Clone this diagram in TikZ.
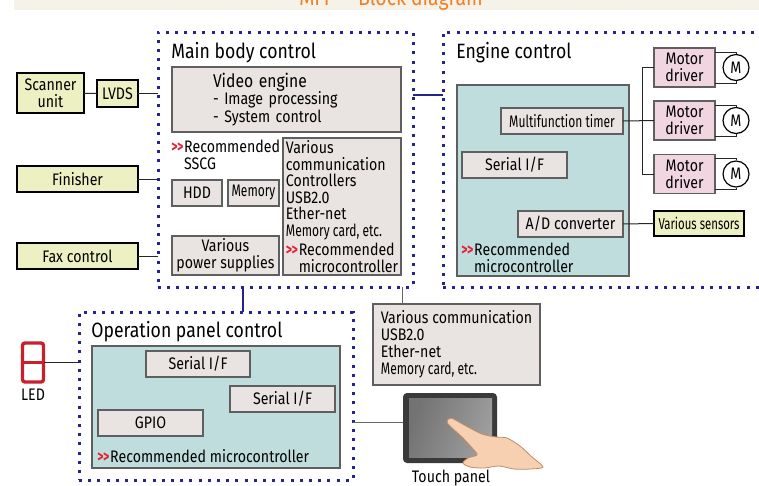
\documentclass[tikz,border=0pt]{standalone}
\usepackage{fontspec}
\setmainfont{Fira Sans}[FakeStretch=0.85]
\newfontfamily\narrowfont{Fira Sans}[FakeStretch=0.72]
\newfontfamily\cjkfont{Noto Sans CJK JP}
\usetikzlibrary{positioning, calc, arrows.meta}
\definecolor{BoxGray}{RGB}{233,228,226}
\definecolor{BoxLine}{RGB}{95,95,95}
\definecolor{ExtYellow}{RGB}{237,240,195}
\definecolor{McuTeal}{RGB}{191,221,220}
\definecolor{DrvPink}{RGB}{241,214,225}
\definecolor{DotBlue}{RGB}{36,36,140}
\definecolor{LedRed}{RGB}{200,32,45}
\definecolor{RecRed}{RGB}{232,30,50}
\definecolor{Band}{RGB}{247,242,232}
\definecolor{TitleOrange}{RGB}{240,128,40}
\definecolor{PanelDark}{RGB}{58,58,58}
\definecolor{Skin}{RGB}{246,208,176}
\definecolor{SkinLine}{RGB}{190,140,105}
\newlength\pxu
\setlength\pxu{0.02cm}
\newcommand\boxfont{\fontsize{9.5}{9.7}\selectfont}
\newcommand\recmark{{\narrowfont\bfseries\color{RecRed}>\kern-0.3pt>\kern0.5pt}}
\tikzset{wh/.style 2 args={minimum width=#1\pxu, minimum height=#2\pxu}}
\tikzstyle{group} = [draw=DotBlue, line width=3\pxu, dash pattern=on 3\pxu off 6.2\pxu, inner sep=0, outer sep=0]
\tikzstyle{grouptitle} = [anchor=base west, inner sep=0, font=\fontsize{11.8}{13}\selectfont]
\tikzstyle{block} = [draw=BoxLine, fill=BoxGray, line width=1.3\pxu, inner sep=0, outer sep=0, align=center, font=\boxfont]
\tikzstyle{ext} = [block, draw=black, fill=ExtYellow]
\tikzstyle{mcu} = [block, fill=McuTeal]
\tikzstyle{driver} = [block, fill=DrvPink]
\tikzstyle{motor} = [circle, draw=black, fill=white, line width=1.2\pxu, minimum size=26\pxu, inner sep=0, font=\boxfont]
\tikzstyle{note} = [anchor=north west, inner sep=0, align=left, font=\boxfont]
\tikzstyle{wire} = [draw=black!85, line width=1\pxu]
\tikzstyle{bus} = [draw=DotBlue, line width=2.6\pxu]
\tikzstyle{ledseg} = [draw=LedRed, line width=3.4\pxu, rounded corners=2.5\pxu, inner sep=0, outer sep=0,
  path picture={\draw[LedRed, line width=3.4\pxu] (path picture bounding box.west) -- (path picture bounding box.east);}]

\begin{document}
\begin{tikzpicture}[x=\pxu, y=-\pxu]
\useasboundingbox (0,0) rectangle (759,485);

% heading strip
\fill[Band] (14,0) rectangle (759,10);
\begin{scope}
  \clip (14,0) rectangle (759,10);
  \node[anchor=base, inner sep=0, text=TitleOrange, font=\fontsize{13}{13}\selectfont] (title) at (391,5) {MFP{\cjkfont ・}Block diagram};
\end{scope}

% dotted control groups
\node[group, wh={255}{255}] (mainbody) at (285.5,159.5) {};
\node[group, wh={327}{255}] (engine) at (606.5,159.5) {};
\node[group, wh={274}{168}] (opanel) at (216,396) {};
\node[grouptitle] (maintitle) at (171,58) {Main body control};
\node[grouptitle] (enginetitle) at (456,58) {Engine control};
\node[grouptitle] (optitle) at (91,337) {Operation panel control};

\coordinate (busy) at (0,95);
\coordinate (busx) at (243,0);
\draw[bus] (mainbody.east |- busy) -- (engine.west |- busy);
\draw[bus] (mainbody.south -| busx) -- (opanel.north -| busx);

% outside units
\node[ext, wh={67}{40}] (scanner) at (50.5,93) {Scanner\\unit};
\node[ext, wh={41}{27}] (lvds) at (117.5,93.5) {LVDS};
\node[ext, wh={121}{26}] (finisher) at (77.5,179) {Finisher};
\node[ext, wh={121}{26}] (fax) at (77.5,256) {Fax control};
\draw[wire] (scanner) -- (lvds);
\draw[wire] (lvds) -- (lvds -| mainbody.west);
\draw[wire] (finisher) -- (finisher -| mainbody.west);
\draw[wire] (fax) -- (fax -| mainbody.west);

% main body
\node[block, wh={229}{65}, text width=147\pxu, align=left, font=\fontsize{9.5}{9.8}\selectfont] (video) at (286.5,99.5)
  {{\fontsize{10.5}{9.8}\selectfont Video engine}\\- Image processing\\- System control};
\node[note] (sscg) at (171,140) {\recmark Recommended\\\phantom{\recmark}SSCG};
\node[block, wh={50}{26}] (hdd) at (197,193) {HDD};
\node[block, wh={51}{26}, font=\narrowfont\boxfont] (memory) at (253.5,193) {Memory};
\node[block, wh={107}{39}] (power) at (225.5,255.5) {Various\\power supplies};
\node[block, wh={118}{137}, align=left, font=\fontsize{9.5}{9.4}\selectfont] (comm) at (342,206.5)
  {Various\\communication\\Controllers\\USB2.0\\Ether-net\\{\narrowfont Memory card, etc.}\\[1.5pt]\recmark Recommended\\\phantom{\recmark}microcontroller};

% engine
\node[mcu, wh={172}{191}] (engmcu) at (543,180.5) {};
\node[block, wh={122}{26}, font=\narrowfont\boxfont] (timer) at (562,121) {Multifunction timer};
\node[block, wh={105}{26}] (engserial) at (514.5,165) {Serial I/F};
\node[block, wh={105}{26}] (adc) at (570.5,224) {A/D converter};
\node[note] (engrec) at (461,243) {\recmark Recommended\\\phantom{\recmark}microcontroller};

\foreach \i/\y in {1/67.5, 2/120.5, 3/174} {
  \node[driver, wh={61}{39}] (drv\i) at (684.5,\y) {Motor\\driver};
  \node[motor] (mot\i) at (736,\y) {M};
  \draw[wire] ([yshift=-4\pxu]drv\i.north east) -| (mot\i.north);
  \draw[wire] ([yshift=4\pxu]drv\i.south east) -| (mot\i.south);
}
\draw[wire] (timer.east) -- (drv2.west);
\draw[wire] (drv1.west) -- ++(-12,0) |- (drv3.west);

\node[ext, wh={90}{25}, font=\narrowfont\fontsize{9}{9}\selectfont] (sensors) at (699,223.5) {Various sensors};
\draw[wire] (adc) -- (sensors);

% operation panel
\node[mcu, wh={248}{122}] (opmcu) at (216,407) {};
\node[block, wh={104}{26}] (opserial1) at (198,364) {Serial I/F};
\node[block, wh={105}{26}] (opserial2) at (282.5,399) {Serial I/F};
\node[block, wh={105}{26}] (gpio) at (150.5,423) {GPIO};
\node[anchor=base west, inner sep=0, font=\boxfont] (oprec) at (97,462) {\recmark Recommended microcontroller};

\node[ledseg, wh={21}{39}] (led) at (33,362.5) {};
\node[anchor=base, inner sep=0, font=\boxfont] (ledlabel) at (33,400) {LED};
\draw[wire] (led) -- (led -| opanel.west);

% interfaces below the main body
\coordinate (commx) at (402,0);
\node[block, wh={167}{81}, align=left, font=\fontsize{9.5}{9.7}\selectfont] (lowcomm) at (456.5,344.5)
  {Various communication\\USB2.0\\Ether-net\\{\narrowfont Memory card, etc.}};
\draw[wire, draw=black!60] (mainbody.south -| commx) -- (lowcomm.north -| commx);

% touch panel with hand
\node[fill=PanelDark, rounded corners=4\pxu, inner sep=0, outer sep=0, wh={94}{70}] (touch) at (450,428) {};
\shade[left color=black!55, middle color=black!5, right color=black!38, shading angle=70]
  ([shift={(6,5)}]touch.north west) rectangle ([shift={(-5,-6)}]touch.south east);
\filldraw[fill=Skin, draw=SkinLine, line width=0.8\pxu] plot[smooth cycle, tension=0.5] coordinates
  {(447,422) (451,418) (466,426) (482,434) (496,437) (507,438) (520,446) (532,457) (543,467) (530,469)
   (514,469) (499,466) (484,468) (470,467) (463,463) (468,458) (477,455) (474,450) (462,437) (451,427)};
\coordinate (tpy) at (0,422);
\draw[wire, draw=black!60] (opanel.east |- tpy) -- (touch.west |- tpy);
\node[anchor=base, inner sep=0, font=\boxfont] (touchlabel) at (451,482) {Touch panel};

\end{tikzpicture}
\end{document}
